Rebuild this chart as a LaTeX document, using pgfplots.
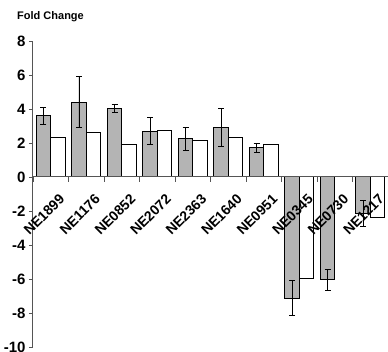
\documentclass[border=0pt]{standalone}
\usepackage{pgfplots}
\pgfplotsset{compat=1.18}
\usepackage{pgfplotstable}
\usepackage{fontspec}
\setmainfont{Liberation Sans}
\definecolor{barg}{RGB}{180,180,180}
\definecolor{axg}{RGB}{85,85,85}
\pgfplotstableread{
x g e w
0.5 3.6 0.5 2.33
1.5 4.4 1.5 2.6
2.5 4.03 0.25 1.94
3.5 2.7 0.78 2.76
4.5 2.25 0.67 2.15
5.5 2.92 1.13 2.33
6.5 1.72 0.25 1.94
7.5 -7.12 1.05 -5.96
8.5 -6.05 0.61 0
9.5 -2.14 0.74 -2.39
}\data
\begin{document}
\begin{tikzpicture}
\path[use as bounding box] (-33pt,-5pt) rectangle (355pt,347pt);
\begin{axis}[
 at={(0,0)}, anchor=south west,
 scale only axis, width=355pt, height=306pt,
 xmin=0, xmax=10, ymin=-10, ymax=8,
 axis y line=left, axis x line=middle,
 axis on top,
 x axis line style={-, draw=axg, line width=1pt},
 y axis line style={-, draw=axg, line width=1pt},
 ytick={-10,-8,...,8},
 xtick={0.5,1.5,...,9.5},
 xticklabels={NE1899,NE1176,NE0852,NE2072,NE2363,NE1640,NE0951,NE0345,NE0730,NE1217},
 minor xtick={0,1,...,10},
 tick align=outside,
 major tick length=4pt,
 minor tick length=5pt,
 x tick style={draw=axg, line width=0.8pt},
 y tick style={draw=axg, line width=0.8pt},
 major x tick style={draw=none},
 /pgf/number format/assume math mode=true,
 yticklabel style={font=\bfseries\fontsize{15}{15}\selectfont},
 xticklabel style={font=\bfseries\fontsize{14}{14}\selectfont, rotate=45, anchor=north east, inner sep=1pt, yshift=-13pt, xshift=-2pt},
 ybar=0pt, bar width=14.5pt,
 clip=false,
]
\addplot[fill=barg, draw=black, line width=1pt,
  error bars/.cd, y dir=both, y explicit,
  error bar style={line width=0.9pt, black},
  error mark options={rotate=90, mark size=3pt, line width=0.9pt, black}]
  table[x=x, y=g, y error=e]{\data};
\addplot[fill=white, draw=black, line width=1pt] table[x=x, y=w]{\data};
\node[anchor=west, font=\bfseries\fontsize{11}{11}\selectfont, inner sep=0pt] at (rel axis cs:-0.045,1.08) {Fold Change};
\end{axis}
\end{tikzpicture}
\end{document}
